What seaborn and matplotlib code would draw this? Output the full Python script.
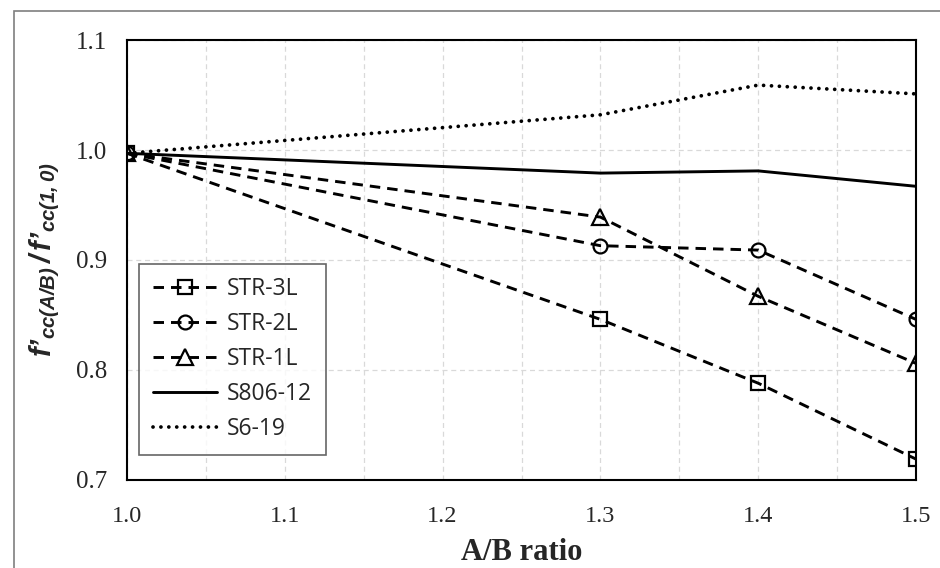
import matplotlib
matplotlib.use("Agg")
import matplotlib.pyplot as plt
import seaborn as sns
import numpy as np
import pandas as pd
from matplotlib.ticker import MultipleLocator
from matplotlib.patches import Rectangle

# ---- data ----
ab_ratio = [1.0, 1.3, 1.4, 1.5]
str_3l = [0.997, 0.846, 0.788, 0.719]
str_2l = [0.997, 0.913, 0.909, 0.846]
str_1l = [0.997, 0.939, 0.867, 0.806]
s806_12 = [0.997, 0.979, 0.981, 0.967]
s6_19 = [0.997, 1.032, 1.059, 1.051]
series_names = ["STR-3L", "STR-2L", "STR-1L", "S806-12", "S6-19"]
x_ticks = [1.0, 1.1, 1.2, 1.3, 1.4, 1.5]
y_ticks = [0.7, 0.8, 0.9, 1.0, 1.1]

sns.set_theme(style="white")
plt.rcParams["mathtext.fontset"] = "custom"
plt.rcParams["mathtext.it"] = "Liberation Sans:italic:bold"
plt.rcParams["mathtext.rm"] = "Liberation Sans:italic:bold"
plt.rcParams["mathtext.bf"] = "Liberation Sans:italic:bold"

fig = plt.figure(figsize=(9.4, 5.68), dpi=100)
ax = fig.add_axes([127/940, 1-480/568, (916-127)/940, (480-40)/568])

# outer border
fig.patches.append(Rectangle((14/940, -0.1), 1.2, 1 - 11/568 + 0.1, transform=fig.transFigure,
                             fill=False, edgecolor="#7f7f7f", linewidth=1.2, zorder=-1))

dash = (0, (3.6, 2.4))
styles = [
    (str_3l, dash, "s", 10),
    (str_2l, dash, "o", 10),
    (str_1l, dash, "^", 11),
    (s806_12, "-", None, 0),
    (s6_19, (0, (0.01, 2.1)), None, 0),
]
for name, (vals, ls, mk, ms) in zip(series_names, styles):
    df = pd.DataFrame({"x": ab_ratio, "y": vals})
    kw = dict(color="black", linewidth=2.1, linestyle=ls, label=name)
    if mk is not None:
        kw.update(marker=mk, markersize=ms, markerfacecolor="none",
                  markeredgecolor="black", markeredgewidth=1.6)
    if name == "S6-19":
        kw.update(linewidth=2.7, dash_capstyle="round")
    sns.lineplot(data=df, x="x", y="y", ax=ax, **kw)

ax.set_xlim(1.0, 1.5)
ax.set_ylim(0.7, 1.1)
ax.set_xticks(x_ticks)
ax.set_yticks(y_ticks)
ax.set_xticklabels([f"{v:.1f}" for v in x_ticks], fontfamily="Liberation Serif", fontsize=17.5)
ax.set_yticklabels([f"{v:.1f}" for v in y_ticks], fontfamily="Liberation Serif", fontsize=18)
ax.xaxis.set_minor_locator(MultipleLocator(0.05))
ax.tick_params(axis="both", which="both", length=0)
ax.tick_params(axis="x", pad=19)
ax.tick_params(axis="y", pad=14)
ax.grid(True, which="both", axis="x", color="#d9d9d9", linestyle=(0, (4, 3)), linewidth=0.9)
ax.grid(True, which="major", axis="y", color="#d9d9d9", linestyle=(0, (4, 3)), linewidth=0.9)
ax.set_axisbelow(True)
for s in ax.spines.values():
    s.set_color("black")
    s.set_linewidth(1.5)
    s.set_visible(True)

ax.set_xlabel("A/B ratio", fontfamily="Liberation Serif", fontweight="bold", fontsize=22, labelpad=8)
ax.set_ylabel(r"$f’_{cc(A/B)}\,/\,f’_{cc(1,0)}$", fontsize=21, labelpad=10)

leg = ax.legend(loc="lower left", bbox_to_anchor=(12/789, 25/440), frameon=True, fancybox=False,
                edgecolor="#404040", prop={"family": "Open Sans", "size": 16.5},
                handlelength=2.8, borderpad=0.6, labelspacing=0.48, handletextpad=0.45,
                borderaxespad=0)
leg.get_frame().set_linewidth(1.2)

fig.savefig("out.png", dpi=100)
